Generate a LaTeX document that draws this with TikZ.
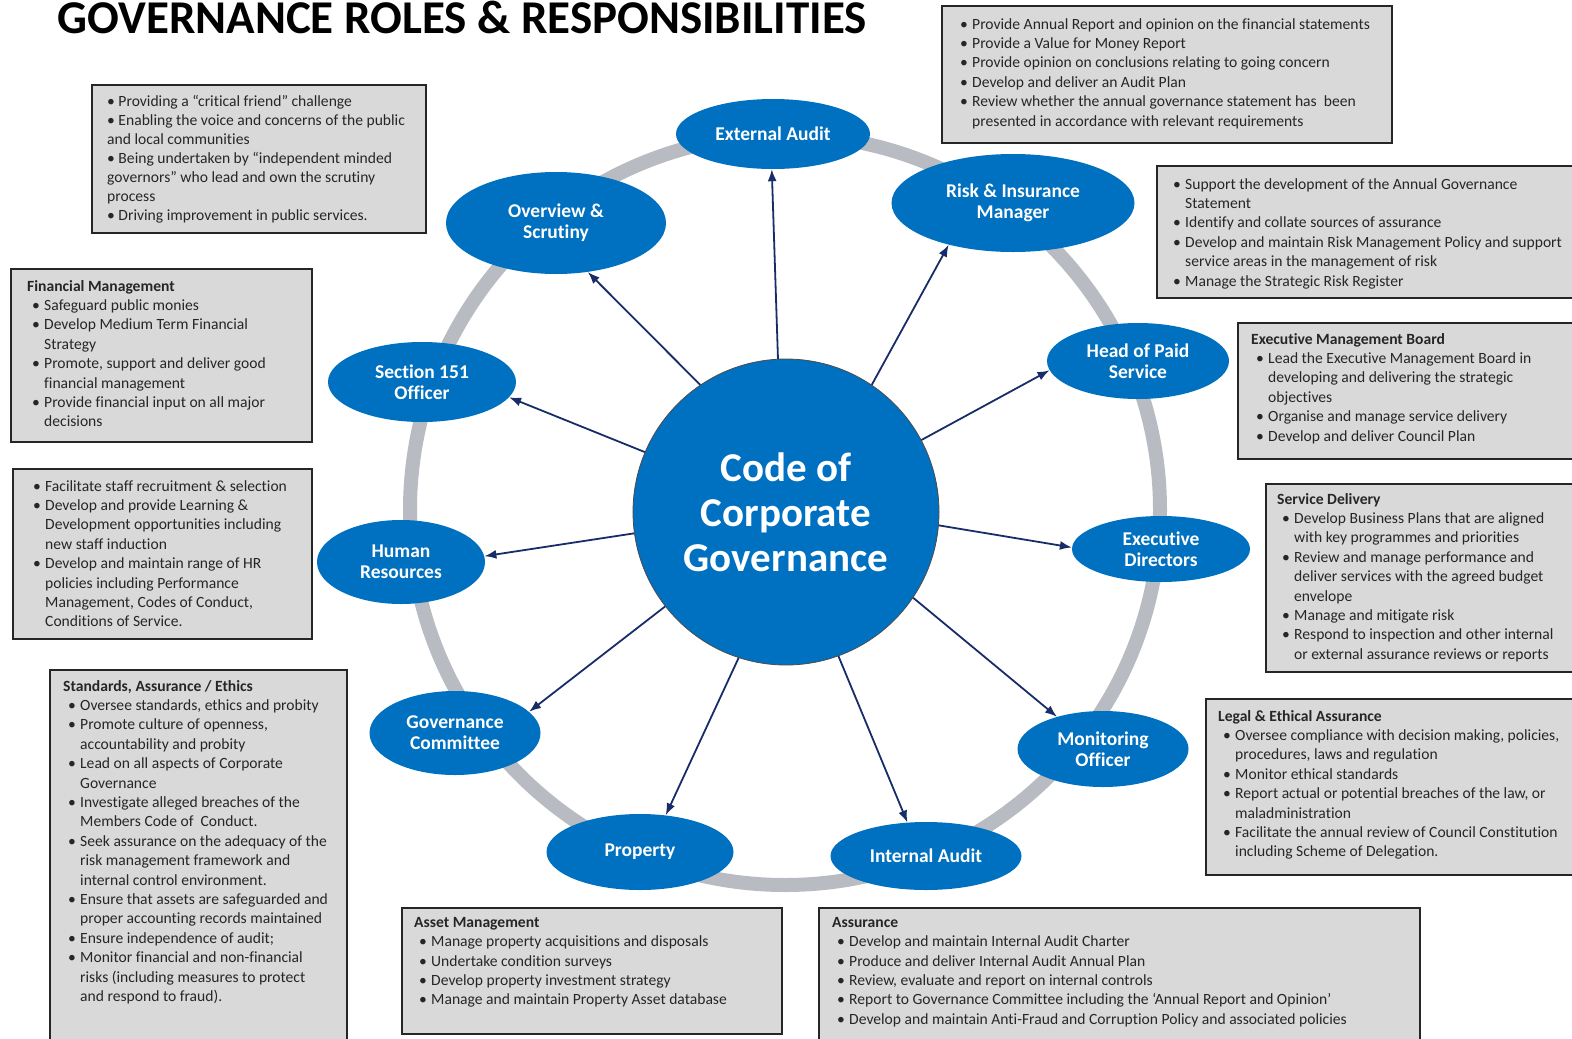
\documentclass[tikz,border=0pt]{standalone}
\usepackage{fontspec}
\setmainfont{Carlito}[Ligatures=NoCommon]
\usetikzlibrary{shapes.geometric,arrows.meta}

\definecolor{roleblue}{RGB}{0,112,192}
\definecolor{ringgrey}{RGB}{184,187,193}
\definecolor{linknavy}{RGB}{24,44,104}
\definecolor{panelgrey}{RGB}{217,217,217}

% bullet line and its continuation inside the grey panels
\newcommand{\bulitem}{\hspace*{5pt}\makebox[12pt][l]{\textbullet}}
\newcommand{\contline}{\hspace*{17pt}}

\begin{document}
\begin{tikzpicture}[x=1pt, y=-1pt,
    role/.style={ellipse, fill=roleblue, text=white, inner sep=0pt, align=center,
        font=\bfseries\fontsize{19.5}{21}\selectfont},
    core/.style={circle, fill=roleblue, draw=black!70, line width=0.8pt, minimum size=306pt,
        text=white, align=center, font=\bfseries\fontsize{41}{45}\selectfont},
    link/.style={draw=linknavy, line width=1.8pt, -{Latex[length=12pt,width=9pt]}},
    ring/.style={draw=ringgrey, line width=14pt},
    panel/.style={rectangle, fill=panelgrey, draw=black!85, line width=1.5pt,
        anchor=north west, inner sep=0pt},
    paneltext/.style={anchor=north west, inner sep=0pt, align=left, text=black!85,
        font=\fontsize{15.6}{19.4}\selectfont}
]
    \path[use as bounding box] (0,0) rectangle (1572,1039);
    \clip (0,0) rectangle (1572,1039);

    \node[anchor=base west, font=\bfseries\fontsize{47}{52}\selectfont] (title) at (54,33)
        {GOVERNANCE ROLES \& RESPONSIBILITIES};

    % grey ring behind the roles
    \draw[ring] (785,510) circle[radius=375pt];

    % centre and roles
    \node[core] (core) at (786,512) {Code of\\Corporate\\Governance};
    \node[role, minimum width=194pt, minimum height=70pt] (ea) at (773,134) {External Audit};
    \node[role, minimum width=243pt, minimum height=98pt] (ri) at (1013,203) {Risk \& Insurance\\Manager};
    \node[role, minimum width=220pt, minimum height=102pt] (os) at (556,223) {Overview \&\\Scrutiny};
    \node[role, minimum width=188pt, minimum height=80pt] (sec) at (422,382) {Section 151\\Officer};
    \node[role, minimum width=182pt, minimum height=76pt] (hps) at (1138,361) {Head of Paid\\Service};
    \node[role, minimum width=168pt, minimum height=84pt] (hr) at (401,562) {Human\\Resources};
    \node[role, minimum width=178pt, minimum height=66pt] (ed) at (1161,549) {Executive\\Directors};
    \node[role, minimum width=171pt, minimum height=84pt] (gc) at (455,733) {Governance\\Committee};
    \node[role, minimum width=171pt, minimum height=76pt] (mo) at (1103,749) {Monitoring\\Officer};
    \node[role, minimum width=187pt, minimum height=76pt] (pr) at (640,852) {Property};
    \node[role, minimum width=191pt, minimum height=68pt] (ia) at (926,856) {Internal Audit};

    \draw[link] (core.93) -- (ea.-92);
    \draw[link] (core.124) -- (os.-57);
    \draw[link] (core.56) -- (ri.-147);
    \draw[link] (core.157) -- (sec.-10);
    \draw[link] (core.28) -- (hps.186);
    \draw[link] (core.188) -- (hr.4);
    \draw[link] (core.-5) -- (ed.179);
    \draw[link] (core.218) -- (gc.16);
    \draw[link] (core.-34) -- (mo.145);
    \draw[link] (core.252) -- (pr.55);
    \draw[link] (core.290) -- (ia.119);

    % grey panels
    \node[panel, minimum width=334pt, minimum height=148pt] (osPanel) at (91,84) {};
    \node[paneltext, font=\fontsize{15.6}{19}\selectfont] (osText) at (107,95) {%
        \textbullet\ Providing a “critical friend” challenge\\
        \textbullet\ Enabling the voice and concerns of the public\\
        and local communities\\
        \textbullet\ Being undertaken by “independent minded\\
        governors” who lead and own the scrutiny\\
        process\\
        \textbullet\ Driving improvement in public services.};

    \node[panel, minimum width=450pt, minimum height=137pt] (eaPanel) at (941,5) {};
    \node[paneltext] (eaText) at (955,18) {%
        \bulitem Provide Annual Report and opinion on the financial statements\\
        \bulitem Provide a Value for Money Report\\
        \bulitem Provide opinion on conclusions relating to going concern\\
        \bulitem Develop and deliver an Audit Plan\\
        \bulitem Review whether the annual governance statement has\ \ been\\
        \contline presented in accordance with relevant requirements};

    \node[panel, minimum width=440pt, minimum height=132pt] (riPanel) at (1156,165) {};
    \node[paneltext] (riText) at (1168,178) {%
        \bulitem Support the development of the Annual Governance\\
        \contline Statement\\
        \bulitem Identify and collate sources of assurance\\
        \bulitem Develop and maintain Risk Management Policy and support\\
        \contline service areas in the management of risk\\
        \bulitem Manage the Strategic Risk Register};

    \node[panel, minimum width=301pt, minimum height=173pt] (fmPanel) at (10,268) {};
    \node[paneltext] (fmText) at (27,280) {%
        \textbf{Financial Management}\\
        \bulitem Safeguard public monies\\
        \bulitem Develop Medium Term Financial\\
        \contline Strategy\\
        \bulitem Promote, support and deliver good\\
        \contline financial management\\
        \bulitem Provide financial input on all major\\
        \contline decisions};

    \node[panel, minimum width=299pt, minimum height=170pt] (hrPanel) at (12,468) {};
    \node[paneltext] (hrText) at (28,480) {%
        \bulitem Facilitate staff recruitment \& selection\\
        \bulitem Develop and provide Learning \&\\
        \contline Development opportunities including\\
        \contline new staff induction\\
        \bulitem Develop and maintain range of HR\\
        \contline policies including Performance\\
        \contline Management, Codes of Conduct,\\
        \contline Conditions of Service.};

    \node[panel, minimum width=360pt, minimum height=136pt] (embPanel) at (1237,322) {};
    \node[paneltext] (embText) at (1251,333) {%
        \textbf{Executive Management Board}\\
        \bulitem Lead the Executive Management Board in\\
        \contline developing and delivering the strategic\\
        \contline objectives\\
        \bulitem Organise and manage service delivery\\
        \bulitem Develop and deliver Council Plan};

    \node[panel, minimum width=330pt, minimum height=188pt] (sdPanel) at (1265,483) {};
    \node[paneltext] (sdText) at (1277,493) {%
        \textbf{Service Delivery}\\
        \bulitem Develop Business Plans that are aligned\\
        \contline with key programmes and priorities\\
        \bulitem Review and manage performance and\\
        \contline deliver services with the agreed budget\\
        \contline envelope\\
        \bulitem Manage and mitigate risk\\
        \bulitem Respond to inspection and other internal\\
        \contline or external assurance reviews or reports};

    \node[panel, minimum width=297pt, minimum height=400pt] (saePanel) at (49,669) {};
    \node[paneltext] (saeText) at (63,680) {%
        \textbf{Standards, Assurance / Ethics}\\
        \bulitem Oversee standards, ethics and probity\\
        \bulitem Promote culture of openness,\\
        \contline accountability and probity\\
        \bulitem Lead on all aspects of Corporate\\
        \contline Governance\\
        \bulitem Investigate alleged breaches of the\\
        \contline Members Code of\ \ Conduct.\\
        \bulitem Seek assurance on the adequacy of the\\
        \contline risk management framework and\\
        \contline internal control environment.\\
        \bulitem Ensure that assets are safeguarded and\\
        \contline proper accounting records maintained\\
        \bulitem Ensure independence of audit;\\
        \bulitem Monitor financial and non-financial\\
        \contline risks (including measures to protect\\
        \contline and respond to fraud).};

    \node[panel, minimum width=390pt, minimum height=176pt] (leaPanel) at (1205,698) {};
    \node[paneltext] (leaText) at (1218,710) {%
        \textbf{Legal \& Ethical Assurance}\\
        \bulitem Oversee compliance with decision making, policies,\\
        \contline procedures, laws and regulation\\
        \bulitem Monitor ethical standards\\
        \bulitem Report actual or potential breaches of the law, or\\
        \contline maladministration\\
        \bulitem Facilitate the annual review of Council Constitution\\
        \contline including Scheme of Delegation.};

    \node[panel, minimum width=380pt, minimum height=126pt] (amPanel) at (401,907) {};
    \node[paneltext] (amText) at (414,917) {%
        \textbf{Asset Management}\\
        \bulitem Manage property acquisitions and disposals\\
        \bulitem Undertake condition surveys\\
        \bulitem Develop property investment strategy\\
        \bulitem Manage and maintain Property Asset database};

    \node[panel, minimum width=601pt, minimum height=160pt] (asPanel) at (818,907) {};
    \node[paneltext] (asText) at (832,917) {%
        \textbf{Assurance}\\
        \bulitem Develop and maintain Internal Audit Charter\\
        \bulitem Produce and deliver Internal Audit Annual Plan\\
        \bulitem Review, evaluate and report on internal controls\\
        \bulitem Report to Governance Committee including the ‘Annual Report and Opinion’\\
        \bulitem Develop and maintain Anti-Fraud and Corruption Policy and associated policies};
\end{tikzpicture}
\end{document}
